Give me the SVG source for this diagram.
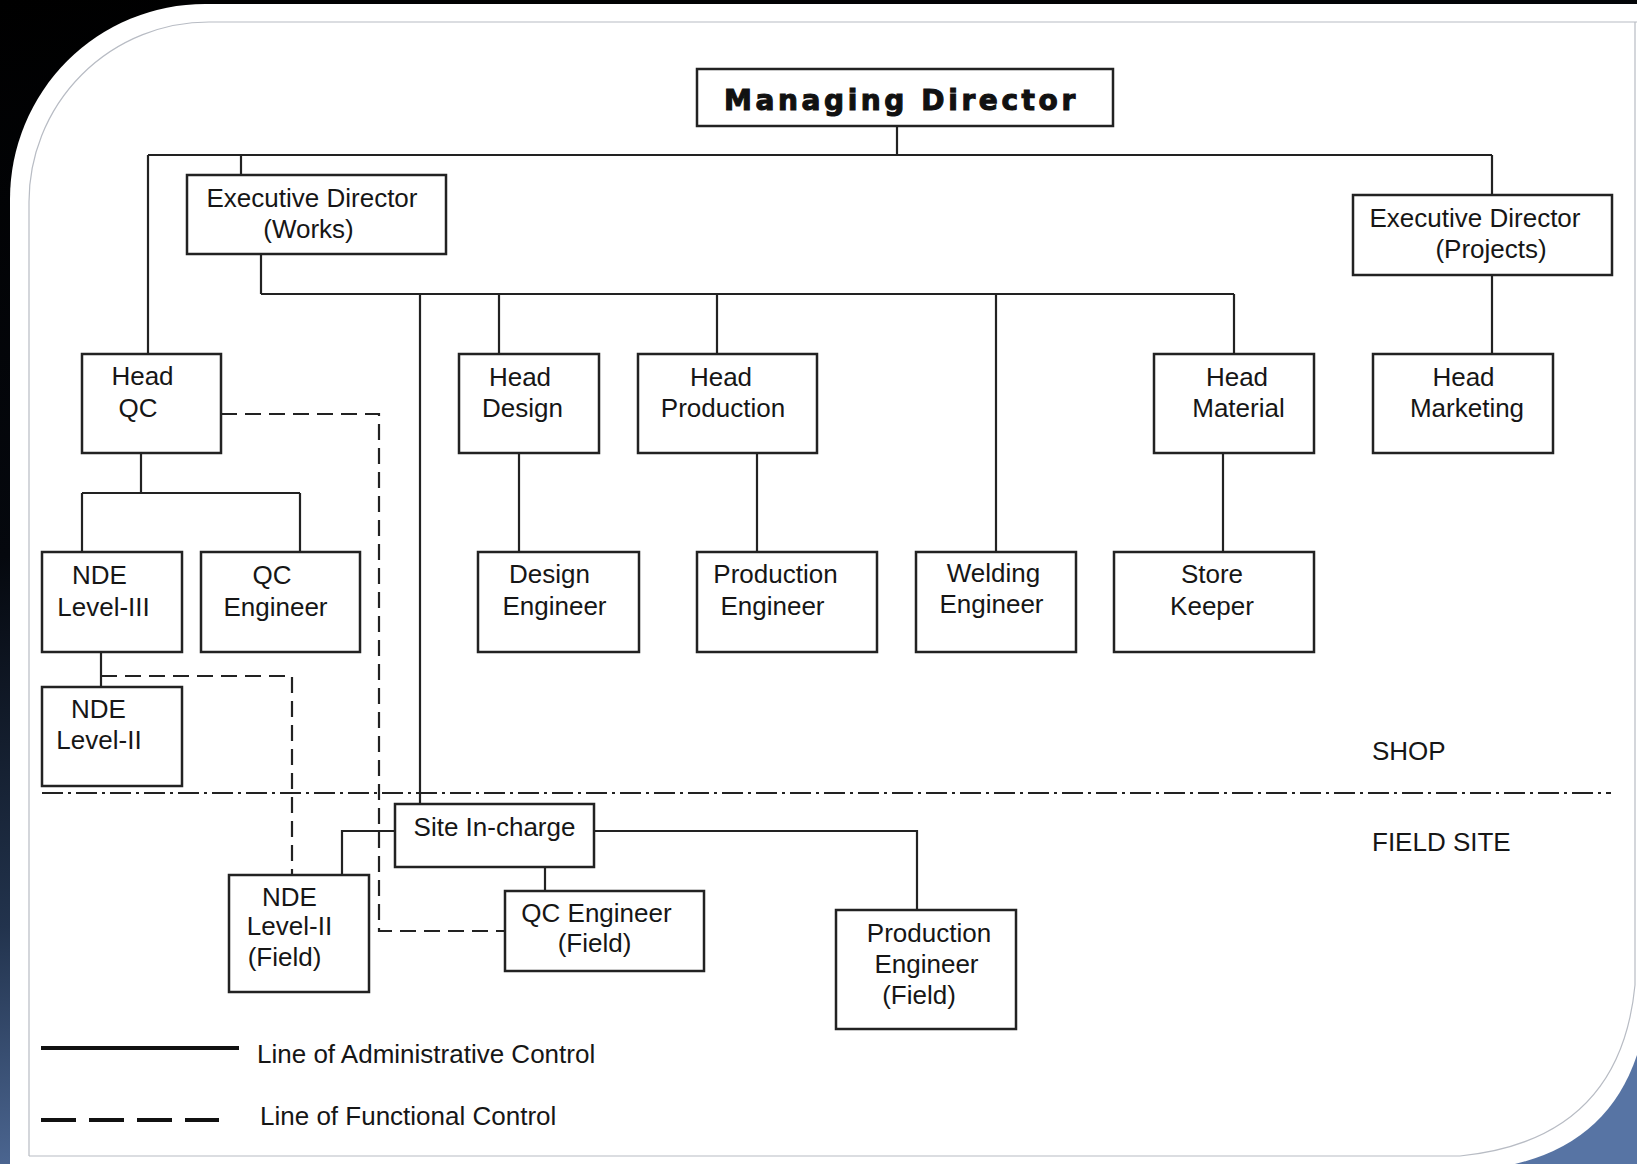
<svg xmlns="http://www.w3.org/2000/svg" width="1637" height="1164" viewBox="0 0 1637 1164">
<defs>
<linearGradient id="bg" x1="0" y1="0" x2="0.25" y2="1">
<stop offset="0" stop-color="#000000"/>
<stop offset="0.45" stop-color="#05080e"/>
<stop offset="0.75" stop-color="#22334d"/>
<stop offset="1" stop-color="#5774a4"/>
</linearGradient>
<style>
.box{fill:#fff;stroke:#222;stroke-width:2.5}
.t{font-family:"Liberation Sans",Arial,sans-serif;font-size:26px;fill:#161616;text-anchor:middle}
.ts{font-family:"Liberation Sans",Arial,sans-serif;font-size:26px;fill:#161616}
.adm{fill:none;stroke:#222;stroke-width:2.2}
.fun{fill:none;stroke:#222;stroke-width:2.2;stroke-dasharray:16 8}
.sep{fill:none;stroke:#222;stroke-width:2.2;stroke-dasharray:21 5 3 5}
</style>
</defs>
<rect x="0" y="0" width="1637" height="1164" fill="url(#bg)"/>
<path d="M10,1164 L10,199 A195,195 0 0 1 205,4 L1637,4 L1637,1055 Q1608,1142 1515,1164 Z" fill="#ffffff"/>
<path d="M29,1156 L29,202 A180,180 0 0 1 209,22 L1637,22 M1635,22 L1635,985 Q1620,1140 1460,1156 L29,1156" fill="none" stroke="#b8bcc4" stroke-width="1.2"/>

<g id="connectors">
<path class="adm" d="M897,126 V155 M148,155 H1492 M148,155 V354 M241,155 V175 M1492,155 V195 M1492,275 V354"/>
<path class="adm" d="M261,254 V294 M261,294 H1234 M420,294 V804 M499,294 V354 M717,294 V354 M996,294 V552 M1234,294 V354"/>
<path class="adm" d="M519,453 V552 M757,453 V552 M1223,453 V552"/>
<path class="adm" d="M141,453 V493 M82,493 H300 M82,493 V552 M300,493 V552 M101,652 V687"/>
<path class="adm" d="M395,831 H342 V875 M594,831 H917 V910 M545,867 V891"/>
<path class="fun" d="M221,414 H379 V931 H505"/>
<path class="fun" d="M101,676 H292 V875"/>
<path class="sep" d="M42,793 H1611"/>
</g>

<g id="md"><rect class="box" x="697" y="69" width="416" height="57"/>
<text x="724" y="110" style="font-family:'DejaVu Sans',sans-serif;font-weight:bold;font-size:28px;letter-spacing:3.6px;fill:#111;stroke:#111;stroke-width:1.1">Managing Director</text></g>

<g id="ed-works"><rect class="box" x="187" y="175" width="259" height="79"/>
<text class="t" x="312" y="207">Executive Director</text><text class="t" x="308.5" y="238">(Works)</text></g>

<g id="ed-projects"><rect class="box" x="1353" y="195" width="259" height="80"/>
<text class="t" x="1475" y="227">Executive Director</text><text class="t" x="1491" y="258">(Projects)</text></g>

<g id="head-qc"><rect class="box" x="82" y="354" width="139" height="99"/>
<text class="t" x="142.5" y="385">Head</text><text class="t" x="138" y="417">QC</text></g>

<g id="head-design"><rect class="box" x="459" y="354" width="140" height="99"/>
<text class="t" x="520" y="386">Head</text><text class="t" x="522.5" y="417">Design</text></g>

<g id="head-production"><rect class="box" x="638" y="354" width="179" height="99"/>
<text class="t" x="721" y="386">Head</text><text class="t" x="723" y="417">Production</text></g>

<g id="head-material"><rect class="box" x="1154" y="354" width="160" height="99"/>
<text class="t" x="1237" y="386">Head</text><text class="t" x="1238.5" y="417">Material</text></g>

<g id="head-marketing"><rect class="box" x="1373" y="354" width="180" height="99"/>
<text class="t" x="1463.5" y="386">Head</text><text class="t" x="1467" y="417">Marketing</text></g>

<g id="nde-l3"><rect class="box" x="42" y="552" width="140" height="100"/>
<text class="t" x="99.5" y="584">NDE</text><text class="t" x="103.5" y="616">Level-III</text></g>

<g id="qc-engineer"><rect class="box" x="201" y="552" width="159" height="100"/>
<text class="t" x="272" y="584">QC</text><text class="t" x="275.5" y="616">Engineer</text></g>

<g id="design-engineer"><rect class="box" x="478" y="552" width="161" height="100"/>
<text class="t" x="549.5" y="583">Design</text><text class="t" x="554.5" y="615">Engineer</text></g>

<g id="production-engineer"><rect class="box" x="697" y="552" width="180" height="100"/>
<text class="t" x="775.5" y="583">Production</text><text class="t" x="772.5" y="615">Engineer</text></g>

<g id="welding-engineer"><rect class="box" x="916" y="552" width="160" height="100"/>
<text class="t" x="993.5" y="582">Welding</text><text class="t" x="991.5" y="613">Engineer</text></g>

<g id="store-keeper"><rect class="box" x="1114" y="552" width="200" height="100"/>
<text class="t" x="1212" y="583">Store</text><text class="t" x="1212" y="615">Keeper</text></g>

<g id="nde-l2"><rect class="box" x="42" y="687" width="140" height="99"/>
<text class="t" x="98.5" y="718">NDE</text><text class="t" x="99" y="749">Level-II</text></g>

<g id="site-incharge"><rect class="box" x="395" y="804" width="199" height="63"/>
<text class="t" x="494.5" y="836">Site In-charge</text></g>

<g id="nde-l2-field"><rect class="box" x="229" y="875" width="140" height="117"/>
<text class="t" x="289.5" y="906">NDE</text><text class="t" x="289.5" y="935">Level-II</text><text class="t" x="284.5" y="966">(Field)</text></g>

<g id="qc-engineer-field"><rect class="box" x="505" y="891" width="199" height="80"/>
<text class="t" x="596.5" y="922">QC Engineer</text><text class="t" x="594.5" y="952">(Field)</text></g>

<g id="production-engineer-field"><rect class="box" x="836" y="910" width="180" height="119"/>
<text class="t" x="929" y="942">Production</text><text class="t" x="926.5" y="973">Engineer</text><text class="t" x="919" y="1004">(Field)</text></g>

<g id="zones">
<text class="ts" x="1372" y="760">SHOP</text>
<text class="ts" x="1372" y="851">FIELD SITE</text>
</g>

<g id="legend">
<line x1="41" y1="1048" x2="239" y2="1048" stroke="#111" stroke-width="4"/>
<text class="ts" x="257" y="1063">Line of Administrative Control</text>
<path d="M41,1120 H219" stroke="#111" stroke-width="4" stroke-dasharray="35 13" fill="none"/>
<text class="ts" x="260" y="1125">Line of Functional Control</text>
</g>
</svg>
